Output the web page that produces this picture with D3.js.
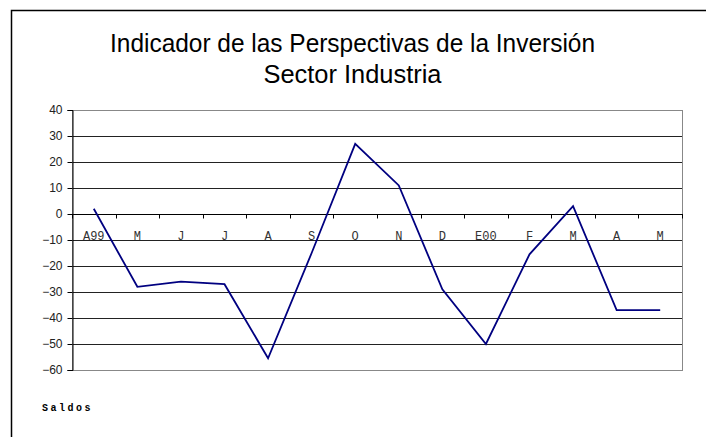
<!DOCTYPE html>
<html>
<head>
<meta charset="utf-8">
<script src="https://cdn.jsdelivr.net/npm/d3@7"></script>
<style>
  body { margin: 0; background: #fff; }
  svg { display: block; }
</style>
</head>
<body>
<script>
// months from April 1999 to May 2000
var months = ["A99", "M", "J", "J", "A", "S", "O", "N", "D", "E00", "F", "M", "A", "M"];
var saldos = [2, -28, -26, -27, -55.5, -15, 27, 11, -29, -50, -15.5, 3, -37, -37];
var yTicks = [40, 30, 20, 10, 0, -10, -20, -30, -40, -50, -60];
var titleLines = ["Indicador de las Perspectivas de la Inversión", "Sector Industria"];

var width = 706, height = 437;
var svg = d3.select("body").append("svg").attr("width", width).attr("height", height);

// outer frame (only left and top edges fall inside the picture)
svg.append("path")
   .attr("class", "frame")
   .attr("d", "M11.5," + height + "V10.5H" + width)
   .attr("fill", "none").attr("stroke", "#000").attr("stroke-width", 1.5);

var plot = {left: 72, top: 110, right: 682, bottom: 370};

var x = d3.scaleBand().domain(d3.range(months.length)).range([plot.left, plot.right]);
var y = d3.scaleLinear().domain([-60, 40]).range([plot.bottom, plot.top]);

var titleWidths = [485, 178];
svg.selectAll("text.title")
   .data(titleLines)
   .enter().append("text")
   .attr("class", "title")
   .attr("x", 352.5)
   .attr("y", function (d, i) { return 52 + i * 31; })
   .attr("text-anchor", "middle")
   .attr("font-family", "Liberation Sans, Arial, sans-serif")
   .attr("font-size", 26)
   .attr("textLength", function (d, i) { return titleWidths[i]; })
   .attr("lengthAdjust", "spacingAndGlyphs")
   .text(function (d) { return d; });

// gridlines
svg.append("g")
   .selectAll("line")
   .data(yTicks.filter(function (d) { return d !== 40 && d !== -60; }))
   .enter().append("line")
   .attr("x1", plot.left).attr("x2", plot.right)
   .attr("y1", function (d) { return Math.round(y(d)) + 0.5; })
   .attr("y2", function (d) { return Math.round(y(d)) + 0.5; })
   .attr("stroke", "#222").attr("stroke-width", 1);

// plot area border
svg.append("rect")
   .attr("x", plot.left + 0.5).attr("y", plot.top + 0.5)
   .attr("width", plot.right - plot.left).attr("height", plot.bottom - plot.top)
   .attr("fill", "none").attr("stroke", "#888").attr("stroke-width", 1);

// y axis
var yAxis = d3.axisLeft(y).tickValues(yTicks).tickSize(5).tickPadding(5)
              .tickFormat(function (d) { return d < 0 ? "\u2212" + Math.abs(d) : d; });
var yg = svg.append("g").attr("transform", "translate(" + (plot.left + 0.5) + ",0)").call(yAxis);
yg.select(".domain").attr("stroke", "#000");
yg.selectAll(".tick line").attr("stroke", "#000");
yg.selectAll(".tick text")
  .attr("font-family", "Liberation Sans, Arial, sans-serif")
  .attr("font-size", 12)
  .attr("fill", "#222");

// x axis at zero, ticks between categories
var zeroY = Math.round(y(0)) + 0.5;
svg.append("line")
   .attr("x1", plot.left).attr("x2", plot.right + 1)
   .attr("y1", zeroY).attr("y2", zeroY)
   .attr("stroke", "#000").attr("stroke-width", 1);
svg.append("g")
   .selectAll("line")
   .data(d3.range(months.length + 1))
   .enter().append("line")
   .attr("x1", function (d) { return Math.round(plot.left + d * x.step()) + 0.5; })
   .attr("x2", function (d) { return Math.round(plot.left + d * x.step()) + 0.5; })
   .attr("y1", zeroY).attr("y2", zeroY + 4)
   .attr("stroke", "#000");
svg.append("g")
   .selectAll("text")
   .data(months)
   .enter().append("text")
   .attr("x", function (d, i) { return x(i) + x.bandwidth() / 2; })
   .attr("y", 240)
   .attr("text-anchor", "middle")
   .attr("font-family", "Liberation Mono, Courier New, monospace")
   .attr("font-size", 12)
   .attr("fill", "#333")
   .text(function (d) { return d; });

// data line
var line = d3.line()
   .x(function (d, i) { return x(i) + x.bandwidth() / 2; })
   .y(function (d) { return y(d); });
svg.append("path")
   .datum(saldos)
   .attr("d", line)
   .attr("fill", "none")
   .attr("stroke", "#000080")
   .attr("stroke-width", 1.8);

svg.append("text")
   .attr("x", 42).attr("y", 411)
   .attr("font-family", "Liberation Mono, Courier New, monospace")
   .attr("font-size", 10)
   .attr("font-weight", "bold")
   .attr("letter-spacing", 2.5)
   .text("Saldos");
</script>
</body>
</html>
